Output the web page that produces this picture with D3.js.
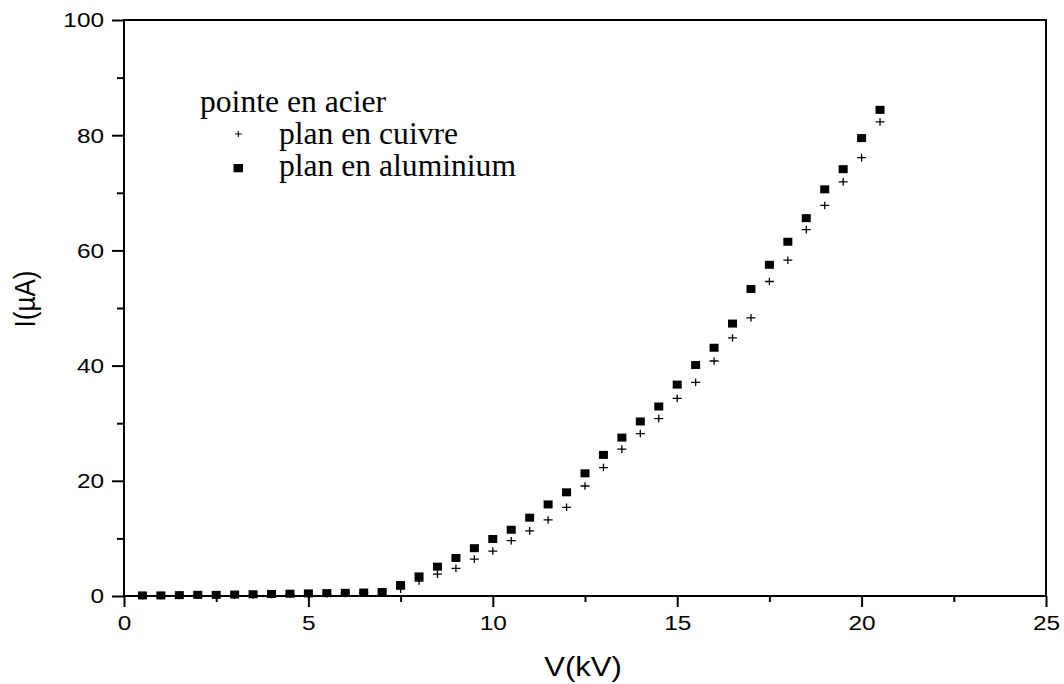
<!DOCTYPE html>
<html><head><meta charset="utf-8">
<script src="https://cdn.jsdelivr.net/npm/d3@7"></script>
<style>body{margin:0;background:#fff}svg{display:block}</style>
</head><body>
<svg id="c" width="1064" height="684"></svg>
<script>
const voltages = [0.5,1,1.5,2,2.5,3,3.5,4,4.5,5,5.5,6,6.5,7,7.5,8,8.5,9,9.5,10,10.5,11,11.5,12,12.5,13,13.5,14,14.5,15,15.5,16,16.5,17,17.5,18,18.5,19,19.5,20,20.5];
const cuivre = [0.05,0.08,0.1,0.12,0.15,0.18,0.2,0.25,0.3,0.35,0.4,0.45,0.55,0.7,1.2,2.6,3.8,4.8,6.4,7.8,9.6,11.3,13.2,15.4,19.1,22.3,25.5,28.2,30.8,34.3,37.1,40.8,44.8,48.3,54.6,58.3,63.6,67.8,71.9,76.1,82.3];
const aluminium = [0.1,0.1,0.15,0.2,0.2,0.25,0.3,0.35,0.4,0.45,0.5,0.55,0.6,0.7,1.9,3.4,5.1,6.6,8.3,9.9,11.5,13.6,15.9,18.0,21.3,24.5,27.5,30.3,32.9,36.7,40.1,43.1,47.3,53.3,57.5,61.5,65.6,70.6,74.1,79.5,84.4];
const xTicks = [0,5,10,15,20,25];
const yTicks = [0,20,40,60,80,100];
const xMinor = [2.5,7.5,12.5,17.5,22.5];
const yMinor = [10,30,50,70,90];
const legendTitle = "pointe en acier";
const seriesNames = ["plan en cuivre","plan en aluminium"];
const xTitle = "V(kV)";
const yTitle = "I(µA)";

const svg = d3.select("#c");
const L=124, R=1046, T=20, B=596;
const x = d3.scaleLinear().domain([0,25]).range([L,R]);
const y = d3.scaleLinear().domain([0,100]).range([B,T]);
const sans = "'Liberation Sans', Arial, sans-serif";
const serif = "'Liberation Serif', 'Times New Roman', serif";
const SX = 1.25; // horizontal stretch of the original picture's sans text

// frame
svg.append("rect").attr("x",L).attr("y",T).attr("width",R-L).attr("height",B-T)
  .attr("fill","none").attr("stroke","#000").attr("stroke-width",2);

function stretchTicks(g, sx){
  g.selectAll(".tick text").each(function(){
    const t = d3.select(this);
    const tx = +t.attr("x") || 0;
    const ty = +t.attr("y") || 0;
    t.attr("transform",`translate(${tx},${ty}) scale(${sx},1)`).attr("x",0).attr("y",0);
  });
}

// x axis
const gx = svg.append("g").attr("transform",`translate(0,${B})`)
  .call(d3.axisBottom(x).tickValues(xTicks).tickSize(11).tickPadding(16.5).tickFormat(d3.format("d")));
gx.select(".domain").remove();
gx.selectAll("line").attr("stroke-width",2);
gx.selectAll("text").attr("font-family",sans).attr("font-size",19.5).attr("fill","#000").attr("dy","0.35em");
stretchTicks(gx, SX);
const gxm = svg.append("g").attr("transform",`translate(0,${B})`)
  .call(d3.axisBottom(x).tickValues(xMinor).tickSize(6).tickFormat(""));
gxm.select(".domain").remove();
gxm.selectAll("line").attr("stroke-width",2);

// y axis
const gy = svg.append("g").attr("transform",`translate(${L},0)`)
  .call(d3.axisLeft(y).tickValues(yTicks).tickSize(12).tickPadding(8).tickFormat(d3.format("d")));
gy.select(".domain").remove();
gy.selectAll("line").attr("stroke-width",2);
gy.selectAll("text").attr("font-family",sans).attr("font-size",19.5).attr("fill","#000").attr("dy","0.35em");
stretchTicks(gy, SX);
const gym = svg.append("g").attr("transform",`translate(${L},0)`)
  .call(d3.axisLeft(y).tickValues(yMinor).tickSize(7).tickFormat(""));
gym.select(".domain").remove();
gym.selectAll("line").attr("stroke-width",2);

// titles
svg.append("text").attr("transform",`translate(${(L+R)/2-2},676) scale(1.15,1)`).attr("text-anchor","middle")
  .attr("font-family",sans).attr("font-size",27).text(xTitle);
svg.append("text").attr("transform",`translate(35,299) rotate(-90) scale(1,1.17)`).attr("text-anchor","middle")
  .attr("font-family",sans).attr("font-size",26).text(yTitle);

// data
const plus = (sx,sy)=>`M${-sx},0H${sx}M0,${-sy}V${sy}`;
svg.append("g").selectAll("path").data(voltages.map((v,i)=>[v,cuivre[i]])).join("path")
  .attr("transform",d=>`translate(${x(d[0])},${y(d[1])})`)
  .attr("d",plus(4.5,3.8)).attr("stroke","#000").attr("stroke-width",1.3).attr("fill","none");
svg.append("g").selectAll("rect").data(voltages.map((v,i)=>[v,aluminium[i]])).join("rect")
  .attr("x",d=>x(d[0])-4.5).attr("y",d=>y(d[1])-4).attr("width",9).attr("height",8).attr("fill","#000");

// legend
svg.append("text").attr("transform","translate(200,111.5) scale(1.02,1)").attr("font-family",serif).attr("font-size",31).text(legendTitle);
svg.append("path").attr("transform","translate(238.3,134)").attr("d",plus(3.4,3)).attr("stroke","#000").attr("stroke-width",1.1);
svg.append("text").attr("transform","translate(279,143.5) scale(1.02,1)").attr("font-family",serif).attr("font-size",31).text(seriesNames[0]);
svg.append("rect").attr("x",233.5).attr("y",164).attr("width",9.5).attr("height",8.3).attr("fill","#000");
svg.append("text").attr("transform","translate(279,176) scale(1.02,1)").attr("font-family",serif).attr("font-size",31).text(seriesNames[1]);
</script>
</body></html>
